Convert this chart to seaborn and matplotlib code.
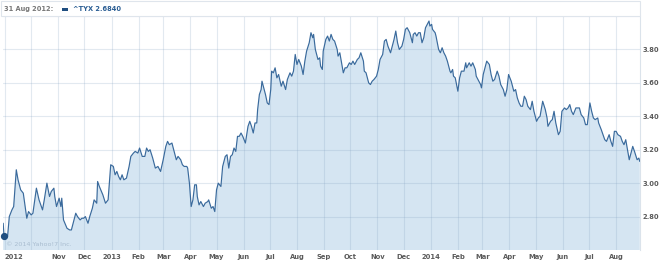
import numpy as np
import pandas as pd
import matplotlib
matplotlib.use("Agg")
import matplotlib.pyplot as plt
from matplotlib.patches import Rectangle
import seaborn as sns

# ---------------- data ----------------
start_date = "2012-08-31"
day_offsets = [
    -1, 0, 4, 6, 9, 11, 14, 16, 19, 22, 26, 28, 31, 33, 37, 40, 44, 46, 49, 52, 54, 57, 58, 60, 63, 65, 66,
    68, 72, 75, 77, 80, 82, 84, 87, 89, 91, 93, 96, 98, 101, 103, 106, 107, 109, 113, 116, 119,
    122, 125, 127, 129, 131, 133, 135, 137, 140, 143, 145, 148, 150, 153, 155, 158, 161, 163, 165, 167,
    170, 173, 176, 179, 182, 185, 187, 189, 192, 194, 197, 199, 202, 204, 206, 209, 210, 212, 214, 216,
    218, 220, 221, 223, 225, 228, 230, 233, 234, 237, 239, 241, 243, 245, 248, 250, 253, 255, 257, 259,
    261, 263, 265, 267, 269, 271, 273, 276, 279, 281, 283, 285, 287, 289, 290, 292, 294, 295, 297, 299,
    301, 303, 305, 306, 308, 310, 312, 314, 317, 319, 322, 324, 327, 329, 331, 333, 335, 337, 340, 342,
    344, 346, 349, 351, 353, 354, 356, 359, 361, 362, 364, 365, 368, 370, 372, 374, 376, 378, 381, 382,
    384, 386, 388, 390, 392, 395, 397, 399, 401, 404, 406, 408, 411, 412, 414, 417, 419, 421, 423, 426,
    428, 430, 433, 435, 437, 439, 442, 444, 446, 448, 450, 452, 455, 457, 459, 461, 464, 467, 468, 470,
    472, 474, 476, 478, 480, 482, 484, 486, 487, 489, 490, 493, 494, 497, 499, 501, 503, 505, 507, 510,
    511, 513, 514, 516, 519, 521, 523, 526, 528, 529, 532, 534, 536, 539, 540, 542, 545, 546, 548, 550,
    552, 555, 557, 559, 561, 564, 566, 568, 571, 573, 575, 577, 580, 583, 585, 587, 589, 591, 593, 595,
    597, 599, 602, 604, 606, 609, 611, 613, 616, 619, 621, 622, 625, 627, 629, 631, 634, 636, 638, 641,
    643, 645, 647, 649, 651, 654, 656, 658, 660, 663, 665, 667, 670, 672, 674, 676, 679, 680, 683, 685,
    687, 689, 692, 694, 696, 698, 700, 702, 705, 707, 709, 711, 713, 715, 718, 719, 721, 724, 726, 727,
]
yields = [
    2.76, 2.684, 2.68, 2.80, 2.84, 2.86, 3.08, 3.02, 2.96, 2.94, 2.79, 2.83, 2.81, 2.82, 2.97, 2.90, 2.84, 2.90, 3.00, 2.92, 2.95, 2.97, 2.92, 2.86, 2.91, 2.86, 2.91,
    2.78, 2.73, 2.72, 2.72, 2.78, 2.82, 2.80, 2.78, 2.79, 2.79, 2.80, 2.76, 2.80, 2.85, 2.90, 2.88, 3.01, 2.98, 2.93, 2.88, 2.90,
    3.11, 3.10, 3.05, 3.07, 3.04, 3.02, 3.05, 3.02, 3.03, 3.10, 3.16, 3.18, 3.19, 3.18, 3.21, 3.16, 3.16, 3.21, 3.19, 3.20,
    3.15, 3.09, 3.10, 3.07, 3.14, 3.22, 3.25, 3.23, 3.24, 3.20, 3.14, 3.16, 3.14, 3.11, 3.10, 3.10, 3.09, 3.00, 2.86, 2.90,
    2.99, 2.99, 2.92, 2.87, 2.89, 2.86, 2.88, 2.89, 2.90, 2.85, 2.86, 2.83, 2.96, 3.00, 2.98, 3.10, 3.16, 3.17, 3.09, 3.16,
    3.17, 3.21, 3.19, 3.28, 3.28, 3.30, 3.28, 3.24, 3.34, 3.37, 3.34, 3.30, 3.36, 3.36, 3.44, 3.53, 3.56, 3.61, 3.57, 3.53,
    3.48, 3.47, 3.56, 3.67, 3.66, 3.69, 3.63, 3.65, 3.58, 3.61, 3.56, 3.62, 3.66, 3.64, 3.67, 3.77, 3.71, 3.74, 3.70, 3.65,
    3.73, 3.79, 3.84, 3.90, 3.87, 3.89, 3.80, 3.74, 3.75, 3.70, 3.68, 3.79, 3.86, 3.88, 3.85, 3.89, 3.86, 3.85, 3.80, 3.76,
    3.78, 3.72, 3.66, 3.69, 3.69, 3.72, 3.71, 3.73, 3.71, 3.74, 3.75, 3.78, 3.73, 3.67, 3.66, 3.60, 3.59, 3.61, 3.62, 3.64,
    3.68, 3.74, 3.77, 3.85, 3.86, 3.82, 3.78, 3.82, 3.86, 3.91, 3.84, 3.80, 3.82, 3.86, 3.92, 3.93, 3.90, 3.84, 3.89, 3.90,
    3.88, 3.90, 3.90, 3.84, 3.87, 3.93, 3.95, 3.97, 3.94, 3.95, 3.92, 3.90, 3.88, 3.80, 3.78, 3.81, 3.78, 3.76, 3.73, 3.67,
    3.66, 3.68, 3.64, 3.63, 3.55, 3.63, 3.67, 3.67, 3.72, 3.69, 3.72, 3.70, 3.72, 3.68, 3.64, 3.62, 3.59, 3.57, 3.65, 3.69,
    3.73, 3.71, 3.65, 3.61, 3.62, 3.67, 3.64, 3.59, 3.56, 3.52, 3.56, 3.65, 3.61, 3.55, 3.56, 3.51, 3.48, 3.46, 3.46, 3.52,
    3.50, 3.46, 3.44, 3.49, 3.43, 3.37, 3.39, 3.40, 3.49, 3.44, 3.39, 3.34, 3.37, 3.38, 3.43, 3.36, 3.29, 3.31, 3.43, 3.45,
    3.44, 3.45, 3.47, 3.43, 3.41, 3.45, 3.45, 3.45, 3.41, 3.39, 3.35, 3.35, 3.48, 3.43, 3.39, 3.38, 3.39, 3.36, 3.32, 3.29,
    3.26, 3.25, 3.29, 3.25, 3.22, 3.31, 3.31, 3.29, 3.28, 3.25, 3.23, 3.26, 3.20, 3.14, 3.20, 3.22, 3.19, 3.14, 3.15, 3.13,
]
month_starts = pd.date_range("2012-09-01", "2014-08-01", freq="MS")
month_labels = ["2012", "", "Nov", "Dec", "2013", "Feb", "Mar", "Apr", "May", "Jun", "Jul", "Aug",
                "Sep", "Oct", "Nov", "Dec", "2014", "Feb", "Mar", "Apr", "May", "Jun", "Jul", "Aug"]
y_ticks = [2.80, 3.00, 3.20, 3.40, 3.60, 3.80, 4.00]
y_tick_labels = ["2.80", "3.00", "3.20", "3.40", "3.60", "3.80", ""]
header_date = "31 Aug 2012:"
header_series = "^TYX 2.6840"
hover_value = 2.684
copyright_text = "\u00a9 2014 Yahoo!7 Inc."

t0 = pd.Timestamp(start_date)
df = pd.DataFrame({"date": t0 + pd.to_timedelta(day_offsets, unit="D"), "yield": yields})

# ---------------- style ----------------
sns.set_style("white")
plt.rcParams["font.family"] = ["DejaVu Sans"]

W, H = 660, 264
fig = plt.figure(figsize=(W / 100, H / 100), dpi=100)
ax = fig.add_axes([3 / W, (H - 250) / H, 637 / W, 234 / H])

line_c = "#3a6a9c"
fill_c = "#d5e5f2"
text_c = "#5a5a5a"

ax.fill_between(df["date"], df["yield"], 2.0, color=fill_c, lw=0, zorder=1)
sns.lineplot(data=df, x="date", y="yield", ax=ax, color=line_c, lw=0.85, zorder=3)
ax.plot([t0], [hover_value], "o", color="#1f4e80", ms=4.2, zorder=4, clip_on=False)

ax.set_xlim(t0 - pd.Timedelta(days=1.2), t0 + pd.Timedelta(days=727.3))
ax.set_ylim(2.6, 4.0)

ax.set_xticks(month_starts)
ax.set_xticklabels(month_labels)
ax.set_yticks(y_ticks)
ax.set_yticklabels(y_tick_labels)
ax.yaxis.tick_right()
ax.tick_params(axis="both", length=0, labelsize=4.9, labelcolor=text_c)
ax.tick_params(axis="x", pad=2.8)
ax.tick_params(axis="y", pad=1.8)
for lab in ax.get_xticklabels() + ax.get_yticklabels():
    lab.set_fontweight("bold")
ax.get_xticklabels()[0].set_horizontalalignment("left")

ax.grid(True, color="#7f9fbf", alpha=0.22, lw=0.8, zorder=2)
ax.set_axisbelow(False)
for sp in ax.spines.values():
    sp.set_visible(False)
ax.spines["right"].set_visible(True)
ax.spines["right"].set_color("#dbe3eb")
ax.spines["right"].set_linewidth(0.8)
ax.set_xlabel("")
ax.set_ylabel("")

ax.text(0.005, 0.012, copyright_text, transform=ax.transAxes, fontsize=4.6,
        color="#a9bdd0", ha="left", va="bottom", zorder=5)

# header box
fig.patches.append(Rectangle((1 / W, (H - 15.5) / H), 639 / W, 14.5 / H,
                             transform=fig.transFigure, facecolor="white",
                             edgecolor="#dfe5ec", lw=0.8))
fig.text(4 / W, (H - 9) / H, header_date, fontsize=4.8, fontweight="bold",
         color="#777777", ha="left", va="center")
fig.patches.append(Rectangle((62 / W, (H - 10.7) / H), 6 / W, 2.6 / H,
                             transform=fig.transFigure, facecolor="#1f4e80", lw=0))
fig.text(73 / W, (H - 9) / H, header_series, fontsize=4.8, fontweight="bold",
         color="#2b5e94", ha="left", va="center")

fig.savefig("out.png", dpi=100)
